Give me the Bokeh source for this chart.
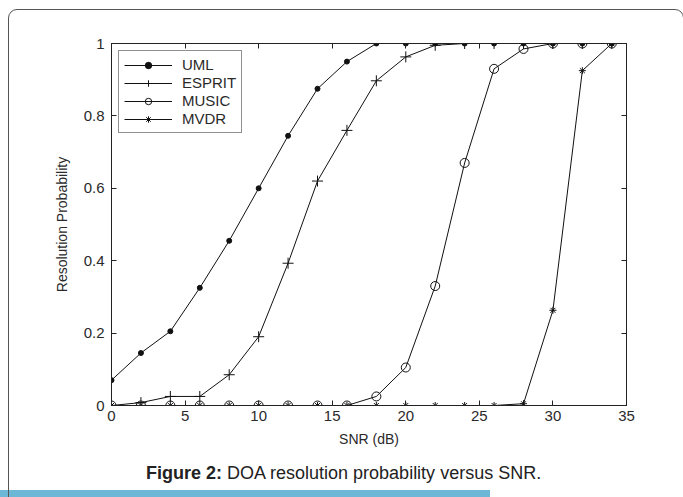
from bokeh.plotting import figure
from bokeh.models import LinearAxis, Range1d, FixedTicker, InlineStyleSheet, Div
from bokeh.layouts import column
from bokeh.embed import file_html
from bokeh.resources import INLINE

# ---- data ----
snr = [0, 2, 4, 6, 8, 10, 12, 14, 16, 18, 20, 22, 24, 26, 28, 30, 32, 34]
uml = [0.07, 0.145, 0.205, 0.325, 0.455, 0.60, 0.745, 0.875, 0.95, 1.0, 1.0, 1.0, 1.0, 1.0, 1.0, 1.0, 1.0, 1.0]
esprit = [0.0, 0.008, 0.025, 0.025, 0.085, 0.19, 0.393, 0.62, 0.76, 0.897, 0.963, 0.995, 1.0, 1.0, 1.0, 1.0, 1.0, 1.0]
music = [0.0, 0.0, 0.0, 0.0, 0.0, 0.0, 0.0, 0.0, 0.0, 0.025, 0.105, 0.33, 0.67, 0.93, 0.985, 1.0, 1.0, 1.0]
mvdr = [0.0, 0.0, 0.0, 0.0, 0.0, 0.0, 0.0, 0.0, 0.0, 0.0, 0.0, 0.0, 0.0, 0.0, 0.005, 0.263, 0.925, 1.0]
series_names = ["UML", "ESPRIT", "MUSIC", "MVDR"]
x_ticks = [0, 5, 10, 15, 20, 25, 30, 35]
y_ticks = [0, 0.2, 0.4, 0.6, 0.8, 1.0]
y_tick_labels = ["0", "0.2", "0.4", "0.6", "0.8", "1"]
x_label = "SNR (dB)"
y_label = "Resolution Probability"
caption_bold = "Figure 2:"
caption_text = "DOA resolution probability versus SNR."

FONT = "Liberation Sans"
TXT = "#2a2a2a"
W = 683
H_PLOT = 455
H_CAP = 42

p = figure(width=W, height=H_PLOT, output_backend="svg", toolbar_location=None,
           x_range=Range1d(0, 35), y_range=Range1d(0, 1),
           min_border_left=111, min_border_right=57, min_border_top=43, min_border_bottom=50,
           x_axis_label=x_label, y_axis_label=y_label)
p.grid.visible = False
p.outline_line_color = "#222222"
p.outline_line_width = 1
p.background_fill_color = "white"
p.border_fill_alpha = 0

p.xaxis.ticker = FixedTicker(ticks=x_ticks)
p.yaxis.ticker = FixedTicker(ticks=y_ticks)
p.yaxis.major_label_overrides = {t: l for t, l in zip(y_ticks, y_tick_labels)}

def style_axis(ax, labels=True):
    ax.major_tick_in = 5
    ax.major_tick_out = 0
    ax.minor_tick_line_color = None
    ax.axis_line_color = "#222222"
    ax.major_tick_line_color = "#222222"
    ax.major_label_text_font = FONT
    ax.major_label_text_font_size = "15px"
    ax.major_label_text_color = TXT
    ax.axis_label_text_font = FONT
    ax.axis_label_text_font_size = "14px"
    ax.axis_label_text_font_style = "normal"
    ax.axis_label_text_color = TXT
    if not labels:
        ax.major_label_overrides = {t: "" for t in ax.ticker.ticks}
        ax.major_label_standoff = 0

for ax in p.xaxis:
    style_axis(ax)
    ax.major_label_standoff = 5
    ax.axis_label_standoff = 7
for ax in p.yaxis:
    style_axis(ax)
    ax.major_label_standoff = 7
    ax.axis_label_standoff = 11

top_ax = LinearAxis(ticker=FixedTicker(ticks=x_ticks))
right_ax = LinearAxis(ticker=FixedTicker(ticks=y_ticks))
style_axis(top_ax, labels=False)
style_axis(right_ax, labels=False)
p.add_layout(top_ax, "above")
p.add_layout(right_ax, "right")

# ---- series ----
LC = "#111111"
p.line(snr, uml, line_color=LC, line_width=1, legend_label=series_names[0])
p.scatter(snr, uml, marker="circle", size=5, fill_color=LC, line_color=LC, legend_label=series_names[0])

p.line(snr, esprit, line_color=LC, line_width=1, legend_label=series_names[1])
p.scatter(snr, esprit, marker="cross", size=11, line_color=LC, line_width=1, legend_label=series_names[1])

p.line(snr, music, line_color=LC, line_width=1, legend_label=series_names[2])
p.scatter(snr, music, marker="circle", size=9, fill_color=None, line_color=LC, line_width=1, legend_label=series_names[2])

p.line(snr, mvdr, line_color=LC, line_width=1, legend_label=series_names[3])
p.scatter(snr, mvdr, marker="asterisk", size=7, line_color=LC, line_width=1, legend_label=series_names[3])

lg = p.legend[0]
lg.location = "top_left"
lg.margin = 7
lg.border_line_color = "#222222"
lg.border_line_width = 1
lg.padding = 5
lg.spacing = 1
lg.glyph_width = 48
lg.glyph_height = 16
lg.label_height = 16
lg.label_standoff = 10
lg.label_text_font = FONT
lg.label_text_font_size = "15px"
lg.label_text_color = TXT
lg.background_fill_color = "white"
lg.background_fill_alpha = 1

# ---- caption strip ----
cap = Div(
    text=('<div style="margin:0;padding:8px 0 0 146px;font-family:\'Liberation Sans\';'
          'font-size:18px;line-height:20px;color:#222222;white-space:nowrap">'
          f'<b>{caption_bold}</b> {caption_text}</div>'),
    width=W, height=H_CAP, margin=0)

layout = column(p, cap, spacing=0)
# outer rounded page frame + blue bar (host styling, behind both parts)
layout.stylesheets.append(InlineStyleSheet(css="""
:host {
  position: relative;
  overflow: hidden;
  background: linear-gradient(#6cb6d6, #6cb6d6) no-repeat 0px 490px / 490px 7px, #ffffff;
}
:host::before {
  content: "";
  position: absolute;
  left: 8px; top: 9px; width: 674px; height: 640px;
  border: 1.2px solid #555555;
  border-radius: 9px;
  pointer-events: none;
}
"""))

open("out.html", "w").write(file_html(layout, INLINE))
